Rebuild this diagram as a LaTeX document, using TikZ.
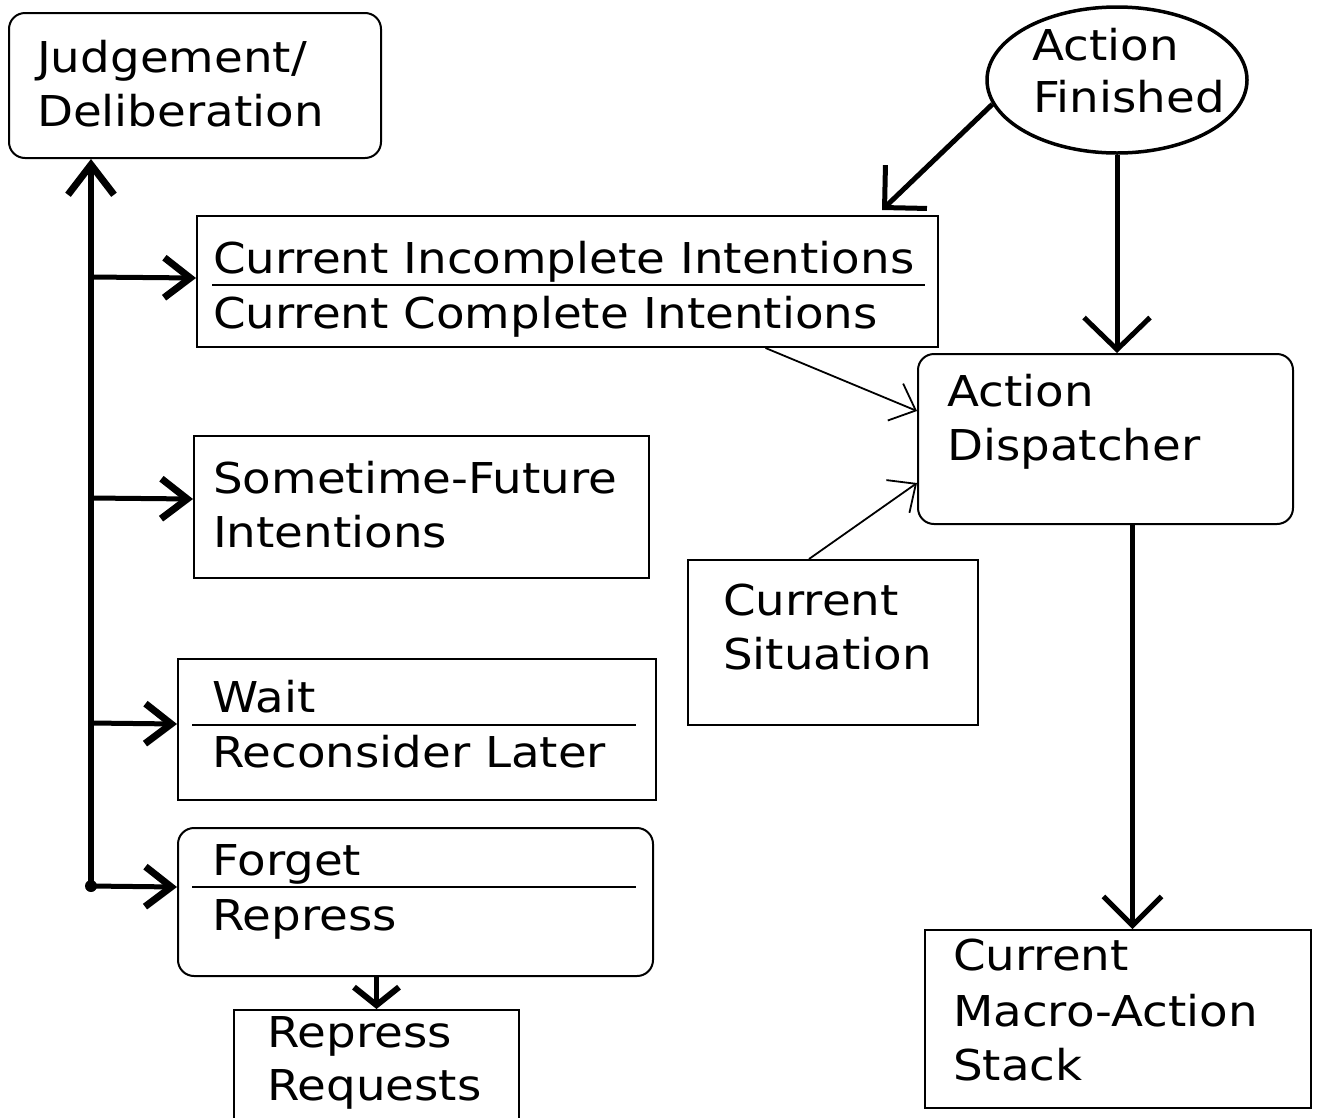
\documentclass[tikz,border=0pt]{standalone}
\usepackage{fontspec}
\setmainfont{DejaVu Sans}[FakeStretch=1.1]
\usetikzlibrary{arrows.meta,shapes.geometric,calc}
\begin{document}
\begin{tikzpicture}[x=1pt,y=-1pt,
  box/.style={draw,line width=2pt,inner sep=0pt,anchor=north west},
  rbox/.style={box,rounded corners=16pt},
  txt/.style={anchor=base west,inner sep=0pt,font=\fontsize{42.5}{55}\selectfont},
  divider/.style={line width=2pt},
  heavy/.style={line width=5pt},
  light/.style={line width=1.8pt,-{Straight Barb[length=22pt,width=40pt]}},
  branch/.style={heavy,-{Straight Barb[length=26pt,width=40pt,line width=7pt]}},
]
\useasboundingbox (0,0) rectangle (1319,1117);
\fill[white] (0,0) rectangle (1319,1117);

% boxes
\node[rbox,minimum width=372pt,minimum height=145pt] (judge) at (8,12) {};
\node[box,minimum width=741pt,minimum height=131pt] (cur) at (196,215) {};
\node[box,minimum width=455pt,minimum height=142pt] (fut) at (193,435) {};
\node[box,minimum width=478pt,minimum height=141pt] (wait) at (177,658) {};
\node[rbox,minimum width=475pt,minimum height=148pt] (forget) at (177,827) {};
\node[box,minimum width=285pt,minimum height=130pt] (rep) at (233,1009) {};
\node[rbox,minimum width=375pt,minimum height=170pt] (ad) at (917,353) {};
\node[box,minimum width=290pt,minimum height=165pt] (cs) at (687,559) {};
\node[box,minimum width=386pt,minimum height=178pt] (mac) at (924,929) {};
\node[draw,ellipse,line width=3.5pt,inner sep=0pt,minimum width=260pt,minimum height=146pt] (af) at (1117,80) {};

% texts
\node[txt] (judge1) at (37,72) {Judgement/};
\node[txt] (judge2) at (37,126) {Deliberation};
\node[txt] (af1) at (1032,60) {Action};
\node[txt] (af2) at (1033,112) {Finished};
\node[txt] (cur1) at (213,273) {Current Incomplete Intentions};
\node[txt] (cur2) at (213,328) {Current Complete Intentions};
\node[txt] (fut1) at (213,493) {Sometime-Future};
\node[txt] (fut2) at (213,547) {Intentions};
\node[txt] (wait1) at (212,712) {Wait};
\node[txt] (wait2) at (212,767) {Reconsider Later};
\node[txt] (forget1) at (212,875) {Forget};
\node[txt] (forget2) at (212,930) {Repress};
\node[txt] (rep1) at (267,1047) {Repress};
\node[txt] (rep2) at (267,1100) {Requests};
\node[txt] (ad1) at (947,406) {Action};
\node[txt] (ad2) at (947,460) {Dispatcher};
\node[txt] (cs1) at (723,615) {Current};
\node[txt] (cs2) at (723,669) {Situation};
\node[txt] (mac1) at (953,970) {Current};
\node[txt] (mac2) at (953,1026) {Macro-Action};
\node[txt] (mac3) at (953,1080) {Stack};

% dividers
\draw[divider] (212,285) -- (925,285);
\draw[divider] (192,725) -- (636,725);
\draw[divider] (192,887) -- (636,887);

% trunk and branches
\coordinate (jn) at (91,886);
\draw[line width=6pt,-{Straight Barb[length=30pt,width=46pt,line width=7pt]}] (jn) -- (jn |- judge.south);
\fill (jn) circle (6pt);
\draw[branch] (jn |- 0,277) -- ([yshift=3.5pt]cur.west);
\draw[branch] (jn |- 0,498) -- ([yshift=8pt]fut.west);
\draw[branch] (jn |- 0,723) -- ([yshift=5.5pt]wait.west);
\draw[branch] (jn) -- ([yshift=15pt]forget.west);

% forget -> repress requests
\draw[line width=5pt,-{Straight Barb[length=18pt,width=45pt,line width=6pt]}] (rep.north |- forget.south) -- (rep.north);

% action finished connectors
\draw[heavy,-{Straight Barb[length=30pt,width=60pt]}] (af.191) -- ($(cur.north east)+(-57,-5)$);
\draw[heavy,-{Straight Barb[length=32pt,width=66pt]}] (af.south) -- (af.south |- ad.north);

% thin arrows into dispatcher
\draw[light] ($(cur.south)+(198,0)$) -- ($(ad.west)+(0,-28)$);
\draw[light] ($(cs.north)+(-24,0)$) -- ($(ad.west)+(0,44)$);

% dispatcher -> macro stack
\coordinate (adout) at ($(ad.south)+(27,0)$);
\draw[heavy,-{Straight Barb[length=29pt,width=58pt]}] (adout) -- (adout |- mac.north);
\end{tikzpicture}
\end{document}
